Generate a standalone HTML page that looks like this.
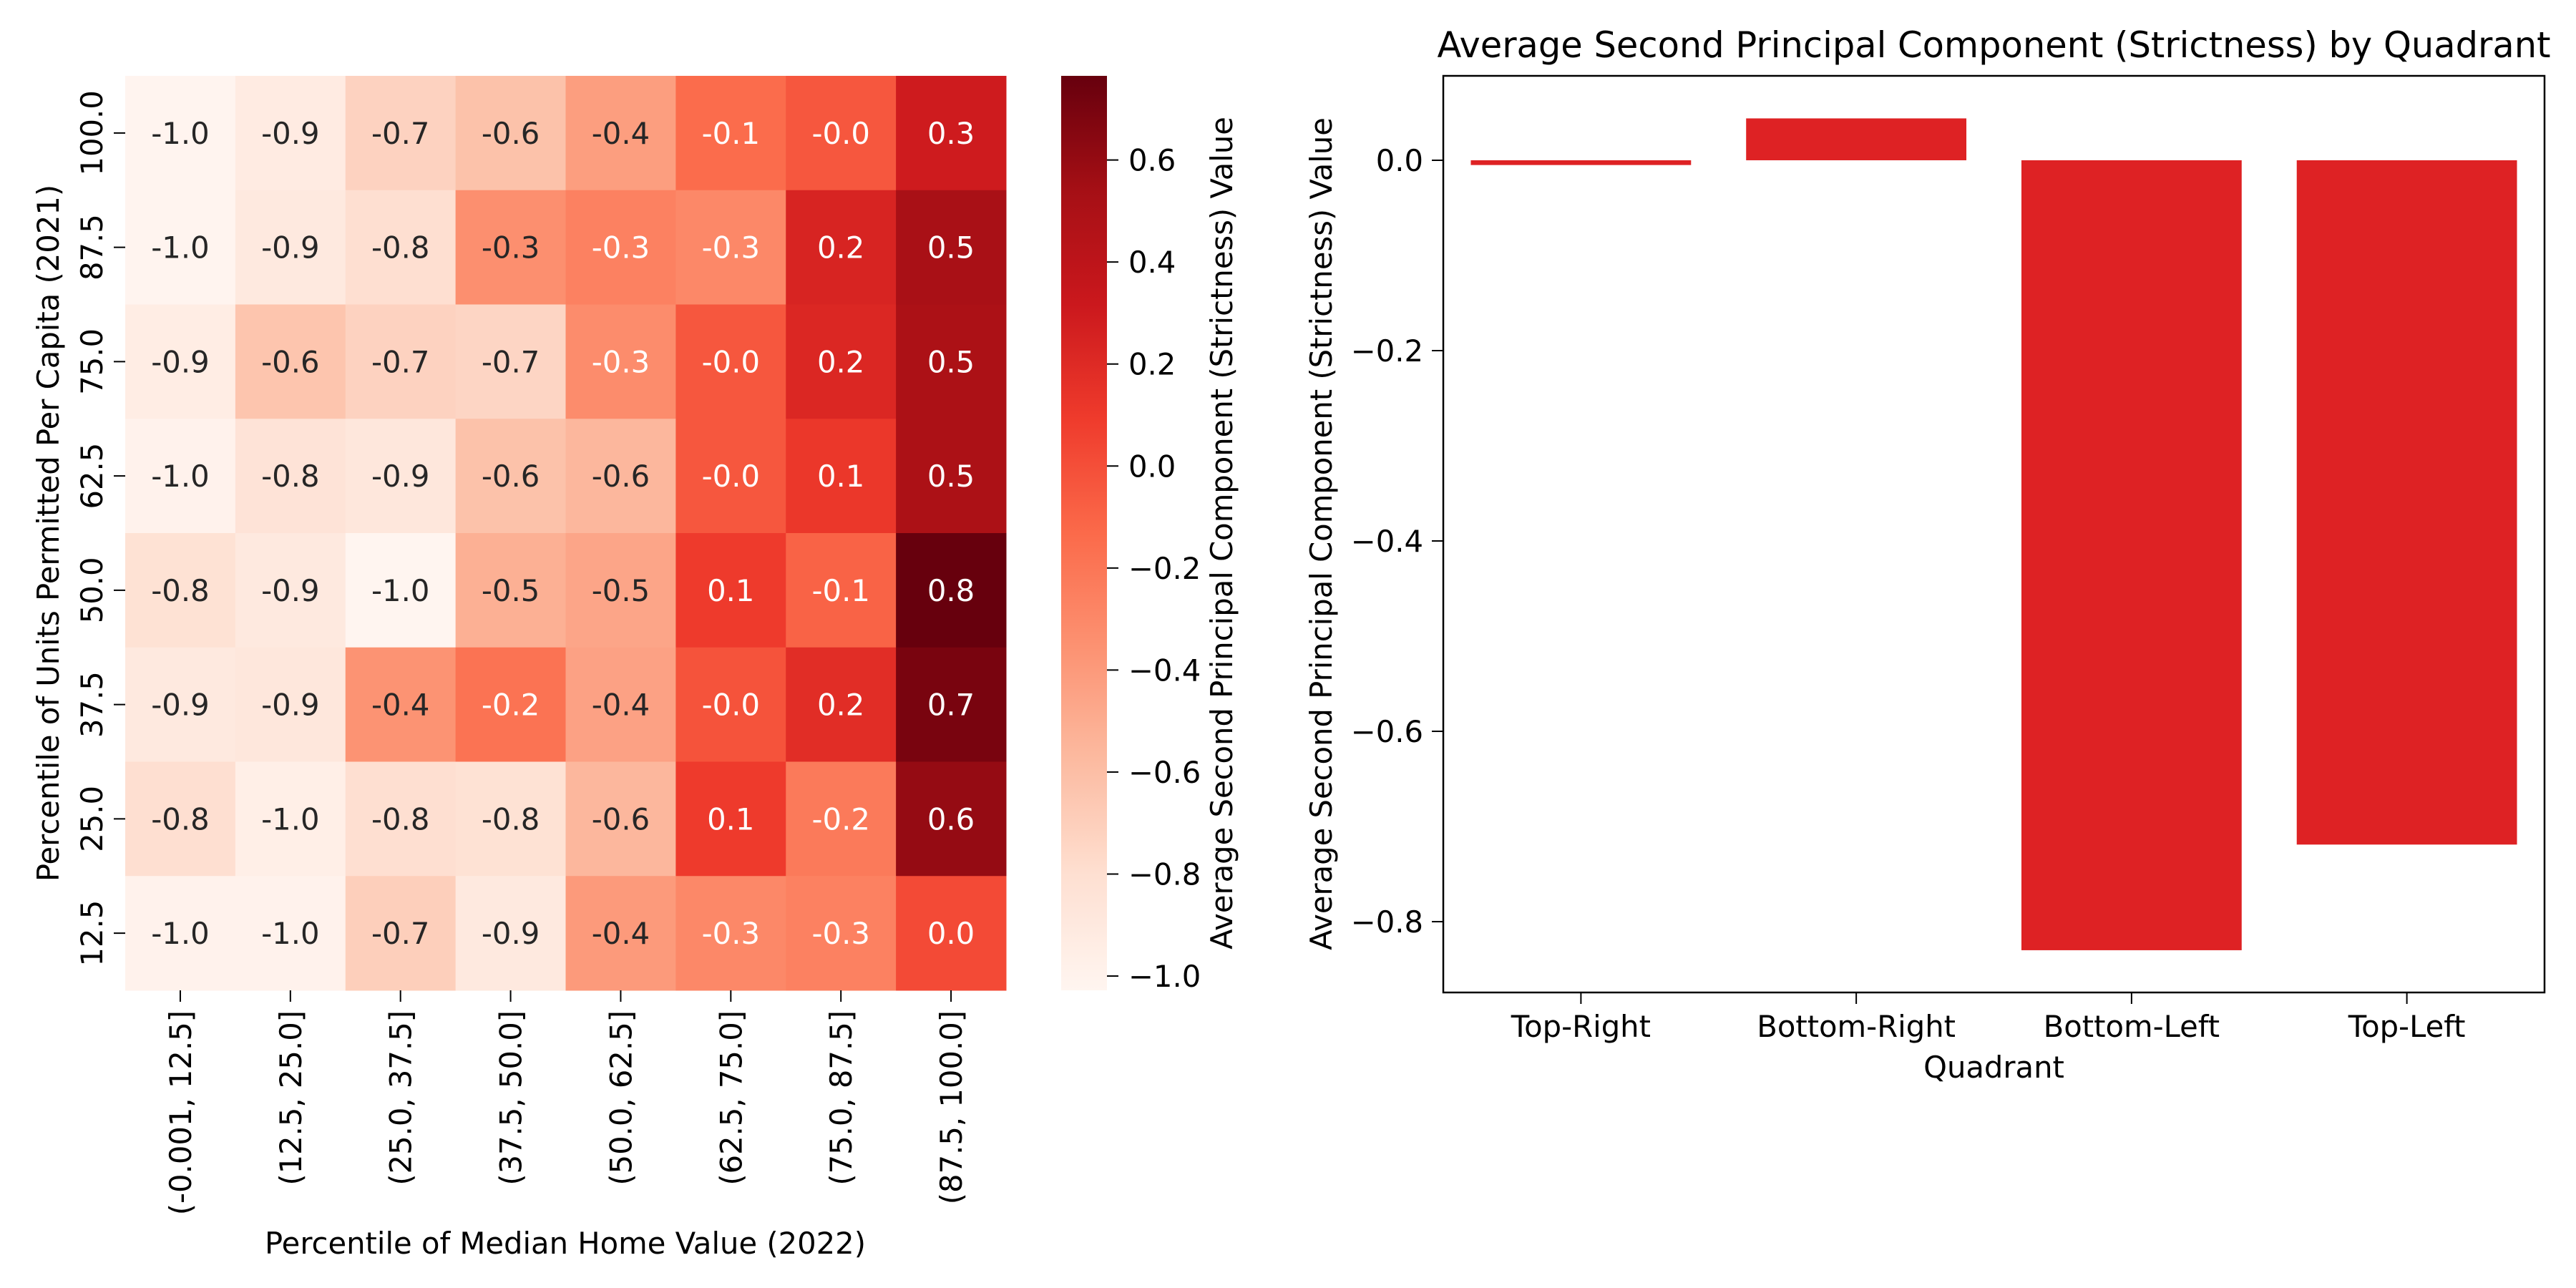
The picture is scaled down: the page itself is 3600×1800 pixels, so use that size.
<!DOCTYPE html>
<html><head><meta charset="utf-8">
<style>
html,body{margin:0;padding:0;background:#fff;}
svg{display:block;font-family:"DejaVu Sans","Liberation Sans",sans-serif;}
</style></head>
<body>
<svg id="fig" width="3600" height="1800" viewBox="0 0 3600 1800" xmlns="http://www.w3.org/2000/svg">
<g id="heat"></g>
<g id="cbar"></g>
<g id="bars"></g>
</svg>
<script>
// ---------- heatmap data ----------
const colLabels = ["(-0.001, 12.5]","(12.5, 25.0]","(25.0, 37.5]","(37.5, 50.0]","(50.0, 62.5]","(62.5, 75.0]","(75.0, 87.5]","(87.5, 100.0]"];
const rowLabels = ["100.0","87.5","75.0","62.5","50.0","37.5","25.0","12.5"];
const row100 = [-1.02,-0.92,-0.72,-0.62,-0.42,-0.14,-0.04,0.30];
const row875 = [-1.02,-0.90,-0.80,-0.34,-0.26,-0.30,0.24,0.52];
const row750 = [-0.94,-0.64,-0.72,-0.74,-0.32,-0.04,0.22,0.50];
const row625 = [-1.00,-0.84,-0.88,-0.62,-0.56,-0.04,0.12,0.50];
const row500 = [-0.82,-0.90,-1.03,-0.52,-0.46,0.10,-0.10,0.77];
const row375 = [-0.90,-0.88,-0.36,-0.18,-0.44,-0.02,0.18,0.70];
const row250 = [-0.80,-0.96,-0.80,-0.82,-0.56,0.10,-0.22,0.60];
const row125 = [-1.00,-1.00,-0.70,-0.90,-0.40,-0.30,-0.26,0.02];
const cbTicks = [0.6,0.4,0.2,0.0,-0.2,-0.4,-0.6,-0.8,-1.0];
// ---------- bar data ----------
const quadrants = ["Top-Right","Bottom-Right","Bottom-Left","Top-Left"];
const quadValues = [-0.005,0.044,-0.830,-0.719];
const barTicks = [0.0,-0.2,-0.4,-0.6,-0.8];

const NS="http://www.w3.org/2000/svg";
function mk(parent,tag,attrs,txt){const e=document.createElementNS(NS,tag);for(const k in attrs)e.setAttribute(k,attrs[k]);if(txt!==undefined)e.textContent=txt;parent.appendChild(e);return e;}
const FS=41.7;
const fmtTick=v=>(v<0?"\u2212":"")+Math.abs(v).toFixed(1);

// Reds colormap
const stops=["#fff5f0","#fee0d2","#fcbba1","#fc9272","#fb6a4a","#ef3b2c","#cb181d","#a50f15","#67000d"].map(h=>[parseInt(h.slice(1,3),16),parseInt(h.slice(3,5),16),parseInt(h.slice(5,7),16)]);
function reds(t){t=Math.max(0,Math.min(1,t));const p=t*8;const i=Math.min(7,Math.floor(p));const f=p-i;const a=stops[i],b=stops[i+1];return [0,1,2].map(k=>Math.round(a[k]+(b[k]-a[k])*f));}
function lum(c){const l=c.map(v=>{v/=255;return v<=0.03928?v/12.92:Math.pow((v+0.055)/1.055,2.4);});return 0.2126*l[0]+0.7152*l[1]+0.0722*l[2];}
const vmin=-1.028,vmax=0.765;

// ---------- heatmap ----------
const H=document.getElementById('heat');
const hx0=175,hx1=1406,hy0=106,hy1=1384;
const cw=(hx1-hx0)/colLabels.length, ch=(hy1-hy0)/rowLabels.length;
const matrix=[row100,row875,row750,row625,row500,row375,row250,row125];
const hxs=i=>hx0+i*cw, hys=j=>hy0+j*ch;
matrix.forEach((row,j)=>row.forEach((v,i)=>{
  const c=reds((v-vmin)/(vmax-vmin));
  const r=mk(H,'rect',{x:hxs(i),y:hys(j),width:cw+0.5,height:ch+0.5,fill:`rgb(${c})`});
  
  
  const t=mk(H,'text',{x:hxs(i)+cw/2,y:hys(j)+ch/2+15,'text-anchor':'middle','font-size':FS,fill:lum(c)<0.408?'#ffffff':'#262626'},v.toFixed(1));
  
  
}));
rowLabels.forEach((l,j)=>{
  const y=hys(j)+ch/2;
  mk(H,'line',{x1:hx0-16,x2:hx0,y1:y,y2:y,stroke:'#000','stroke-width':2});
  const t=mk(H,'text',{x:0,y:0,transform:`translate(${hx0-32},${y}) rotate(-90)`,'text-anchor':'middle','font-size':FS},l);
  
  
});
colLabels.forEach((l,i)=>{
  const x=hxs(i)+cw/2;
  mk(H,'line',{x1:x,x2:x,y1:hy1,y2:hy1+16,stroke:'#000','stroke-width':2});
  const t=mk(H,'text',{x:0,y:0,transform:`translate(${x+15},${hy1+28}) rotate(-90)`,'text-anchor':'end','font-size':FS},l);
  
  
});
let t=mk(H,'text',{x:0,y:0,transform:`translate(82,745) rotate(-90)`,'text-anchor':'middle','font-size':FS},'Percentile of Units Permitted Per Capita (2021)');

t=mk(H,'text',{x:790,y:1752,'text-anchor':'middle','font-size':FS},'Percentile of Median Home Value (2022)');


// ---------- colorbar ----------
const C=document.getElementById('cbar');
const cx0=1483,cx1=1547;
const cys=v=>hy0+(vmax-v)/(vmax-vmin)*(hy1-hy0);
const defs=mk(C,'defs',{});
const g=mk(defs,'linearGradient',{id:'cbg',x1:0,y1:1,x2:0,y2:0});
for(let k=0;k<=40;k++){const c=reds(k/40);mk(g,'stop',{offset:k/40,'stop-color':`rgb(${c})`});}
const cb=mk(C,'rect',{x:cx0,y:hy0,width:cx1-cx0,height:hy1-hy0,fill:'url(#cbg)'});

cbTicks.forEach(v=>{
  const y=cys(v);
  mk(C,'line',{x1:cx1,x2:cx1+16,y1:y,y2:y,stroke:'#000','stroke-width':2});
  const tt=mk(C,'text',{x:cx1+30,y:y+15,'font-size':FS},fmtTick(v));
  
});
t=mk(C,'text',{x:0,y:0,transform:`translate(1722,745) rotate(-90)`,'text-anchor':'middle','font-size':FS},'Average Second Principal Component (Strictness) Value');


// ---------- bar chart ----------
const B=document.getElementById('bars');
const bx0=2017,bx1=3556,by0=106,by1=1387;
const ymax=0.0887,ymin=-0.8744;
const ys=v=>by0+(ymax-v)/(ymax-ymin)*(by1-by0);
const step=(bx1-bx0)/quadrants.length;
const xs=i=>bx0+step*(i+0.5);
const bw=step*0.8;
quadValues.forEach((v,i)=>{
  const y0=ys(Math.max(0,v)),y1=ys(Math.min(0,v));
  const r=mk(B,'rect',{x:xs(i)-bw/2,y:y0,width:bw,height:Math.max(1,y1-y0),fill:'#de2224'});
  
  
});
mk(B,'rect',{x:bx0,y:by0,width:bx1-bx0,height:by1-by0,fill:'none',stroke:'#000','stroke-width':2.5});
barTicks.forEach(v=>{
  const y=ys(v);
  mk(B,'line',{x1:bx0-16,x2:bx0,y1:y,y2:y,stroke:'#000','stroke-width':2});
  const tt=mk(B,'text',{x:bx0-28,y:y+15,'text-anchor':'end','font-size':FS},fmtTick(v));
  
});
quadrants.forEach((q,i)=>{
  const x=xs(i);
  mk(B,'line',{x1:x,x2:x,y1:by1,y2:by1+16,stroke:'#000','stroke-width':2});
  const tt=mk(B,'text',{x:x,y:by1+62,'text-anchor':'middle','font-size':FS},q);
  
});
t=mk(B,'text',{x:(bx0+bx1)/2,y:1506,'text-anchor':'middle','font-size':FS},'Quadrant');

t=mk(B,'text',{x:0,y:0,transform:`translate(1861,746) rotate(-90)`,'text-anchor':'middle','font-size':FS},'Average Second Principal Component (Strictness) Value');

t=mk(B,'text',{x:(bx0+bx1)/2,y:80,'text-anchor':'middle','font-size':49.5},'Average Second Principal Component (Strictness) by Quadrant');

</script>
</body></html>
